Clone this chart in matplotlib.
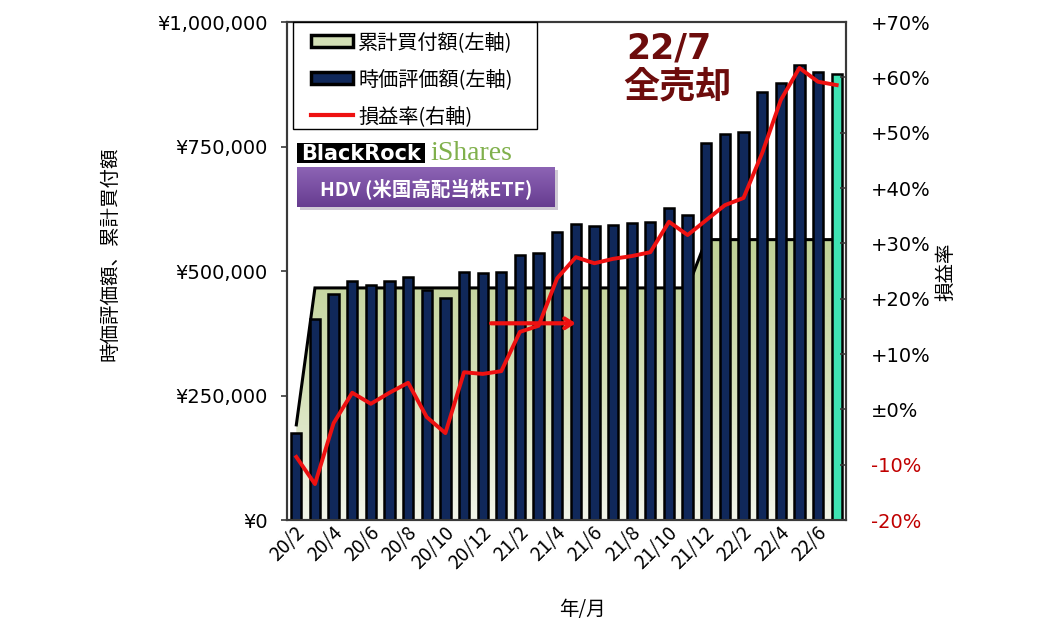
import matplotlib
matplotlib.use('Agg')
import matplotlib.pyplot as plt
import numpy as np
from matplotlib.colors import LinearSegmentedColormap
from matplotlib.patches import Patch, Rectangle
from matplotlib.lines import Line2D
from matplotlib.ticker import FuncFormatter
import matplotlib.transforms as mtransforms

plt.rcParams['font.family'] = ['Noto Sans CJK JP', 'DejaVu Sans']

# ---------------- data ----------------
months = ['20/2', '20/3', '20/4', '20/5', '20/6', '20/7', '20/8', '20/9', '20/10', '20/11',
          '20/12', '21/1', '21/2', '21/3', '21/4', '21/5', '21/6', '21/7', '21/8', '21/9',
          '21/10', '21/11', '21/12', '22/1', '22/2', '22/3', '22/4', '22/5', '22/6', '22/7']
# 時価評価額 (last month = sale value 22/7)
market_value = [175000, 404000, 453000, 479000, 471000, 479000, 487000, 462000, 446000, 498000,
                496000, 498000, 533000, 537000, 578000, 594000, 590000, 592000, 596000, 598000,
                626000, 612000, 757000, 775000, 779000, 859000, 877000, 914000, 900000, 896000]
# 累計買付額
cum_buy = [191000] + [466000] * 21 + [563000] * 8
# 損益率 (%)
pl_rate = [-8.6, -13.5, -2.5, 3.0, 1.0, 3.0, 4.8, -1.4, -4.3, 6.7,
           6.4, 6.9, 14.0, 15.1, 23.7, 27.5, 26.4, 27.2, 27.7, 28.4,
           33.9, 31.5, 34.2, 36.9, 38.2, 46.3, 55.9, 61.7, 59.2, 58.6]
left_ticks = [0, 250000, 500000, 750000, 1000000]
right_ticks = [-0.2, -0.1, 0.0, 0.1, 0.2, 0.3, 0.4, 0.5, 0.6, 0.7]

# ---------------- figure ----------------
W, H = 1058, 638
fig = plt.figure(figsize=(W / 100, H / 100), dpi=100)


def fx(px):
    return px / W


def fy(py):
    return 1 - py / H


L, R, T, B = 287, 846, 22, 520
ax = fig.add_axes([fx(L), fy(B), fx(R) - fx(L), fy(T) - fy(B)])
n = len(months)
x = np.arange(n)

navy = '#10285a'
teal = '#3fe3b3'
red = '#ee1111'

# area with gradient
poly = ax.fill_between(x, cum_buy, 0, facecolor='none', edgecolor='none', zorder=1)
grad = np.linspace(0, 1, 256).reshape(-1, 1)
cmap = LinearSegmentedColormap.from_list('g', [(0, '#f2f5ea'), (0.45, '#d6e1ba'), (1, '#c0d196')])
im = ax.imshow(grad, extent=[-0.5, n - 0.5, 0, max(cum_buy)], origin='lower',
               aspect='auto', cmap=cmap, zorder=1, interpolation='bilinear')
im.set_clip_path(poly.get_paths()[0], ax.transData)
ax.plot(x, cum_buy, color='black', lw=2.2, zorder=2, solid_joinstyle='miter')

bar_colors = [navy] * (n - 1) + [teal]
ax.bar(x, market_value, width=0.55, color=bar_colors, edgecolor='black', linewidth=1.8, zorder=3)

ax.set_xlim(-0.5, n - 0.5)
ax.set_ylim(0, 1000000)

# arrow annotation
ax.annotate('', xy=(15.15, 395000), xytext=(10.3, 395000),
            arrowprops=dict(arrowstyle='->,head_length=0.55,head_width=0.35', color=red, lw=3),
            zorder=6)

ax2 = ax.twinx()
ax2.plot(x, np.array(pl_rate) / 100, color=red, lw=2.8, zorder=5, solid_joinstyle='round')
ax2.set_ylim(-0.2, 0.7)
ax2.set_xlim(-0.5, n - 0.5)

# ticks
ax.set_yticks(left_ticks)
ax.yaxis.set_major_formatter(FuncFormatter(lambda v, p: '¥{:,}'.format(int(round(v)))))
ax.tick_params(axis='y', direction='out', length=4, width=1.2, pad=10, labelsize=14, color='#3a3a3a')
for lab in ax.get_yticklabels():
    lab.set_fontfamily('DejaVu Sans')


def pct(v):
    k = int(round(v * 100))
    if k == 0:
        return '±0%'
    return ('+%d%%' % k) if k > 0 else ('-%d%%' % (-k))


ax2.set_yticks(right_ticks)
ax2.set_yticklabels([pct(v) for v in right_ticks])
ax2.tick_params(axis='y', direction='in', length=4, width=1.2, pad=18, labelsize=14, color='#3a3a3a')
for lab, v in zip(ax2.get_yticklabels(), right_ticks):
    lab.set_fontfamily('DejaVu Sans')
    if v < 0:
        lab.set_color('#c00000')

ax.set_xticks(x[::2])
ax.set_xticklabels(months[::2])
ax.tick_params(axis='x', length=0, pad=7, labelsize=14)
offset = mtransforms.ScaledTranslation(4 / 72, 0, fig.dpi_scale_trans)
for lab in ax.get_xticklabels():
    lab.set_rotation(45)
    lab.set_ha('right')
    lab.set_va('center')
    lab.set_rotation_mode('anchor')
    lab.set_transform(lab.get_transform() + offset)

for a in (ax, ax2):
    for s in a.spines.values():
        s.set_color('#3a3a3a')
        s.set_linewidth(1.5)

# axis labels
fig.text(fx(110), fy(254), '時価評価額、累計買付額', rotation=90, ha='center', va='center', fontsize=14)
fig.text(fx(946), fy(272), '損益率', rotation=90, ha='center', va='center', fontsize=14)
fig.text(fx(582), fy(610), '年/月', ha='center', va='center', fontsize=14)

# legend
frame = Rectangle((fx(293), fy(129)), fx(537) - fx(293), fy(22) - fy(129),
                  transform=fig.transFigure, facecolor='white', edgecolor='black',
                  linewidth=1.0, zorder=9, clip_on=False)
ax2.add_artist(frame)
handles = [Patch(facecolor='#d3dfb6', edgecolor='black', linewidth=2.5),
           Patch(facecolor=navy, edgecolor='black', linewidth=2.5),
           Line2D([0], [0], color=red, lw=3)]
labels = ['累計買付額(左軸)', '時価評価額(左軸)', '損益率(右軸)']
leg = ax2.legend(handles, labels, loc='upper left', bbox_to_anchor=(fx(311), fy(32)),
                 bbox_transform=fig.transFigure, borderaxespad=0, fontsize=14.5,
                 frameon=False, handlelength=2.1, handleheight=0.6, handletextpad=0.25,
                 labelspacing=0.8, borderpad=0.0)
leg.set_zorder(10)

# logos
fig.add_artist(Rectangle((fx(297), fy(163)), fx(425) - fx(297), fy(143) - fy(163),
                         transform=fig.transFigure, facecolor='black', edgecolor='none', zorder=20))
fig.text(fx(361), fy(153.5), 'BlackRock', color='white', fontsize=15, weight='bold',
         family='DejaVu Sans', ha='center', va='center', zorder=21)
fig.text(fx(430), fy(153), 'iShares', color='#80b04c', fontsize=20, family='Liberation Serif',
         ha='left', va='center', zorder=21)

# purple banner
fig.add_artist(Rectangle((fx(300), fy(210)), fx(558) - fx(300), fy(170) - fy(210),
                         transform=fig.transFigure, facecolor='#cfc9d4', edgecolor='none', zorder=19))
pax = fig.add_axes([fx(297), fy(207), fx(555) - fx(297), fy(167) - fy(207)], zorder=20)
pgrad = np.linspace(0, 1, 64).reshape(-1, 1)
pcmap = LinearSegmentedColormap.from_list('p', ['#663c8f', '#7a50a3', '#8c64b4'])
pax.imshow(pgrad, aspect='auto', cmap=pcmap, origin='lower', extent=[0, 1, 0, 1])
pax.set_axis_off()
pax.text(0.5, 0.47, 'HDV (米国高配当株ETF)', color='white', fontsize=14, weight='bold',
         ha='center', va='center', transform=pax.transAxes)

# sale note
fig.text(fx(626), fy(32), '22/7', color='#6d0c0c', fontsize=25, weight='bold',
         family='DejaVu Sans', ha='left', va='top', zorder=21)
fig.text(fx(623), fy(105), '全売却', color='#6d0c0c', fontsize=26, weight='bold',
         ha='left', va='bottom', zorder=21)

fig.savefig('out.png', dpi=100)
